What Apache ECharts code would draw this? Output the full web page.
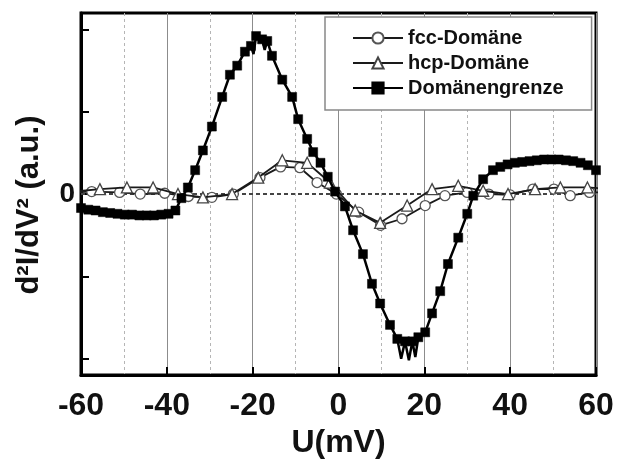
<!DOCTYPE html>
<html>
<head>
<meta charset="utf-8">
<script src="https://cdn.jsdelivr.net/npm/echarts@6/dist/echarts.min.js"></script>
<style>
  html, body { margin: 0; padding: 0; background: #fff; }
  #chart { width: 617px; height: 464px; }
</style>
</head>
<body>
<div id="chart"></div>
<script>
// Bias voltage ticks (mV)
const uTicks = [-60, -40, -20, 0, 20, 40, 60];

// fcc domain spectrum (open circles)
const fccU = [-62.0, -57.5, -51.0, -46.2, -40.5, -35.0, -29.5, -24.5, -18.3, -13.5, -9.0, -5.0, -0.5, 4.7, 9.8, 14.8, 20.2, 24.8, 30.0, 35.0, 40.0, 45.3, 50.2, 54.0, 58.5, 63.0];
const fccV = [0.02, 0.03, 0.02, 0.00, 0.01, -0.03, -0.04, 0.00, 0.20, 0.33, 0.32, 0.14, 0.00, -0.22, -0.38, -0.30, -0.14, -0.02, 0.02, 0.00, -0.01, 0.06, 0.06, -0.02, 0.02, 0.02];

// hcp domain spectrum (open triangles)
const hcpU = [-61.6, -55.6, -49.3, -43.2, -37.4, -31.6, -24.8, -18.7, -13.1, -7.3, -2.0, 3.9, 9.7, 16.0, 21.8, 27.9, 33.7, 39.5, 45.8, 51.7, 58.0, 64.0];
const hcpV = [0.03, 0.06, 0.08, 0.08, 0.00, -0.04, 0.00, 0.20, 0.41, 0.38, 0.14, -0.20, -0.35, -0.14, 0.06, 0.10, 0.04, 0.00, 0.06, 0.08, 0.08, 0.06];

// Domain boundary spectrum (filled squares)
const boundaryU = [-60.0, -58.3, -56.6, -54.9, -53.2, -51.5, -49.8, -48.1, -46.4, -44.7, -43.0, -41.3, -39.6, -38.0, -36.6, -35.1,
  -33.4, -31.6, -29.5, -27.1, -25.3, -23.6, -21.8, -20.4, -19.8, -19.2, -17.8, -17.2, -16.6, -15.5, -13.1, -10.8, -9.4, -7.3, -5.9, -4.2, -2.5, -0.8,
  1.5, 3.4, 5.7, 7.8, 9.7, 12.0, 13.7, 14.6, 15.5, 16.4, 17.2, 17.9, 18.6, 20.2, 21.8, 23.7, 25.5, 27.9, 30.0, 31.4, 33.7, 36.0,
  37.7, 39.4, 41.1, 42.8, 44.5, 46.2, 47.9, 49.6, 51.3, 53.0, 54.7, 56.4, 58.1, 60.0];
const boundaryV = [-0.17, -0.19, -0.20, -0.22, -0.23, -0.24, -0.25, -0.25, -0.26, -0.26, -0.26, -0.25, -0.24, -0.20, -0.05, 0.08,
  0.29, 0.53, 0.82, 1.18, 1.45, 1.56, 1.73, 1.80, 1.70, 1.92, 1.88, 1.75, 1.86, 1.68, 1.39, 1.18, 0.91, 0.67, 0.51, 0.38, 0.21, 0.03,
  -0.15, -0.44, -0.73, -1.09, -1.33, -1.59, -1.76, -2.00, -1.79, -2.02, -1.79, -1.98, -1.74, -1.68, -1.45, -1.18, -0.85, -0.53, -0.24, -0.02, 0.18, 0.29,
  0.33, 0.36, 0.38, 0.39, 0.40, 0.41, 0.42, 0.42, 0.42, 0.41, 0.40, 0.38, 0.35, 0.29];
// Noise spikes in the boundary trace, drawn as line only
const boundarySpikesU = [-19.8, -17.2, 14.6, 16.4, 17.9];

const seriesNames = ['fcc-Domäne', 'hcp-Domäne', 'Domänengrenze'];

const AXIS_FONT = '"Liberation Sans", Arial, sans-serif';
const LEGEND_FONT = '"Liberation Sans", Arial, sans-serif';

function pairs(us, vs) {
  return us.map((u, i) => [u, vs[i]]);
}

const boundaryData = boundaryU.map((u, i) =>
  boundarySpikesU.includes(u)
    ? { value: [u, boundaryV[i]], symbol: 'none' }
    : { value: [u, boundaryV[i]] }
);

const chart = echarts.init(document.getElementById('chart'), null, { renderer: 'canvas' });

chart.setOption({
  animation: false,
  backgroundColor: '#fff',
  grid: {
    left: 81, right: 21, top: 13, bottom: 77,
    show: true, borderColor: '#000', borderWidth: 3, backgroundColor: 'transparent'
  },
  legend: {
    data: seriesNames,
    orient: 'vertical',
    left: 325, top: 17,
    padding: [11, 28, 12, 27],
    itemWidth: 50, itemHeight: 14, itemGap: 5,
    backgroundColor: '#fff',
    borderColor: '#888', borderWidth: 1.5, borderRadius: 0,
    textStyle: { fontFamily: LEGEND_FONT, fontWeight: 'bold', fontSize: 20, color: '#111' }
  },
  xAxis: {
    type: 'value',
    min: uTicks[0], max: uTicks[uTicks.length - 1], interval: 20,
    name: 'U(mV)', nameLocation: 'middle', nameGap: 42,
    nameTextStyle: { fontFamily: AXIS_FONT, fontWeight: 'bold', fontSize: 32, color: '#111' },
    axisLine: { show: true, onZero: false, lineStyle: { color: '#000', width: 3 } },
    axisTick: { show: true, inside: true, length: 8, lineStyle: { color: '#000', width: 2 } },
    axisLabel: { margin: 15, fontFamily: AXIS_FONT, fontWeight: 'bold', fontSize: 32, color: '#111' },
    splitLine: { show: true, lineStyle: { color: '#8c8c8c', width: 1 } },
    minorTick: { show: false, splitNumber: 2 },
    minorSplitLine: { show: true, lineStyle: { color: '#b5b5b5', width: 1, type: [3, 3] } }
  },
  yAxis: {
    type: 'value',
    min: -2.2, max: 2.2,
    name: 'd²I/dV² (a.u.)', nameLocation: 'middle', nameGap: 36,
    nameTextStyle: { fontFamily: AXIS_FONT, fontWeight: 'bold', fontSize: 31, color: '#111', padding: [0, 22, 0, 0] },
    axisLine: { show: true, onZero: false, lineStyle: { color: '#000', width: 3 } },
    axisTick: { show: true, inside: true, length: 8, customValues: [-2, -1, 0, 1, 2], lineStyle: { color: '#000', width: 2 } },
    axisLabel: { show: true, customValues: [0], margin: 6, formatter: v => String(Math.round(v)),
      fontFamily: AXIS_FONT, fontWeight: 'bold', fontSize: 28, color: '#111' },
    splitLine: { show: false }
  },
  series: [
    {
      name: 'zero',
      type: 'line',
      data: [[uTicks[0], 0], [uTicks[uTicks.length - 1], 0]],
      symbol: 'none',
      lineStyle: { color: '#444', width: 2, type: [4, 3] },
      silent: true, z: 1
    },
    {
      name: seriesNames[0],
      type: 'line',
      data: pairs(fccU, fccV),
      symbol: 'circle', symbolSize: 10,
      itemStyle: { color: '#fff', borderColor: '#555', borderWidth: 1.3 },
      lineStyle: { color: '#1a1a1a', width: 1.8 },
      clip: true, z: 3
    },
    {
      name: seriesNames[1],
      type: 'line',
      data: pairs(hcpU, hcpV),
      symbol: 'triangle', symbolSize: 11,
      itemStyle: { color: '#fff', borderColor: '#444', borderWidth: 1.3 },
      lineStyle: { color: '#1a1a1a', width: 1.8 },
      clip: true, z: 4
    },
    {
      name: seriesNames[2],
      type: 'line',
      data: boundaryData,
      symbol: 'rect', symbolSize: 9,
      itemStyle: { color: '#000', borderColor: '#000', borderWidth: 0.5 },
      lineStyle: { color: '#000', width: 2.5 },
      clip: true, z: 5
    }
  ]
});
</script>
</body>
</html>
